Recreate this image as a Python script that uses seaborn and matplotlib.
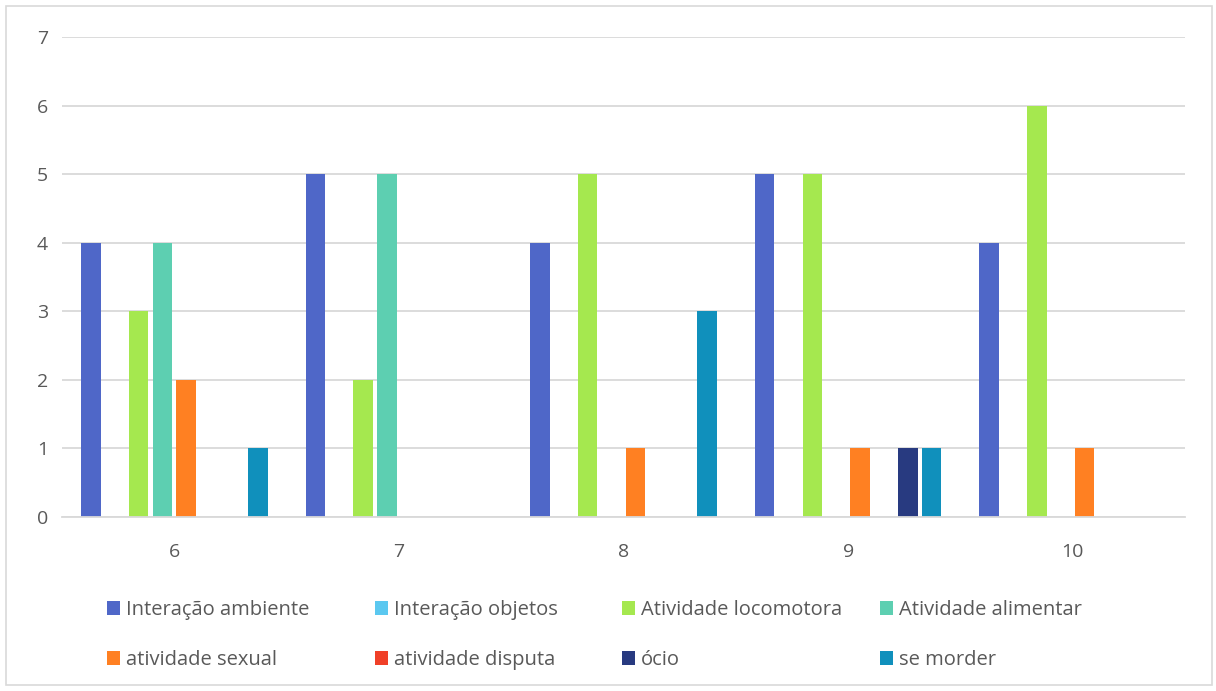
import matplotlib
matplotlib.use("Agg")
import matplotlib.pyplot as plt
from matplotlib.patches import Rectangle
import seaborn as sns
import pandas as pd

groups = ["6", "7", "8", "9", "10"]
series = [
    "Interação ambiente", "Interação objetos", "Atividade locomotora",
    "Atividade alimentar", "atividade sexual", "atividade disputa",
    "ócio", "se morder",
]
interacao_ambiente = [4, 5, 4, 5, 4]
interacao_objetos = [0, 0, 0, 0, 0]
atividade_locomotora = [3, 2, 5, 5, 6]
atividade_alimentar = [4, 5, 0, 0, 0]
atividade_sexual = [2, 0, 1, 1, 1]
atividade_disputa = [0, 0, 0, 0, 0]
ocio = [0, 0, 0, 1, 0]
se_morder = [1, 0, 3, 1, 0]

colors = ["#4F67C8", "#5BC8F0", "#A5E84F", "#5DCFB1",
          "#FF8022", "#F04028", "#283A80", "#1090BC"]

values = [interacao_ambiente, interacao_objetos, atividade_locomotora,
          atividade_alimentar, atividade_sexual, atividade_disputa,
          ocio, se_morder]
rows = []
for name, vals in zip(series, values):
    for g, v in zip(groups, vals):
        rows.append({"grupo": g, "serie": name, "valor": v})
df = pd.DataFrame(rows)

sns.set_style("white")
plt.rcParams["font.family"] = ["Open Sans", "DejaVu Sans"]

W, H = 1216, 691
fig = plt.figure(figsize=(W / 100, H / 100), dpi=100)
ax = fig.add_axes([62 / W, 1 - 517 / H, (1185 - 62) / W, (517 - 37) / H])

sns.barplot(data=df, x="grupo", y="valor", hue="serie", order=groups,
            hue_order=series, palette=colors, saturation=1, width=0.85,
            gap=0.18, linewidth=0, ax=ax, legend=True)

ax.set_ylim(0, 7)
ax.set_yticks(range(8))
ax.set_xlim(-0.5, 4.5)
ax.set_xlabel("")
ax.set_ylabel("")
ax.yaxis.grid(True, color="#D9D9D9", linewidth=1.3)
ax.set_axisbelow(True)
for s in ["top", "right", "left"]:
    ax.spines[s].set_visible(False)
ax.spines["bottom"].set_color("#D9D9D9")
ax.spines["bottom"].set_linewidth(1.3)
ax.tick_params(axis="both", length=0, labelsize=14, colors="#595959")
ax.tick_params(axis="x", pad=19)
ax.tick_params(axis="y", pad=10)

handles, labels = ax.get_legend_handles_labels()
ax.get_legend().remove()

# legend laid out as 4 fixed-width columns of 2 rows each
col_x = [107, 375, 622, 880]
for c in range(4):
    idx = [c, c + 4]
    fig.legend([handles[i] for i in idx], [labels[i] for i in idx],
               loc="upper left", bbox_to_anchor=(col_x[c] / W, 1 - 600 / H),
               ncol=1, frameon=False, fontsize=14.5, labelcolor="#595959",
               handlelength=0.65, handleheight=0.65, handletextpad=0.3,
               labelspacing=1.5, borderaxespad=0, borderpad=0)

fig.patches.append(Rectangle((6 / W, 1 - 685 / H), 1206 / W, 679 / H,
                             transform=fig.transFigure, fill=False,
                             edgecolor="#D9D9D9", linewidth=1.2))

fig.savefig("out.png", dpi=100, facecolor="white")
